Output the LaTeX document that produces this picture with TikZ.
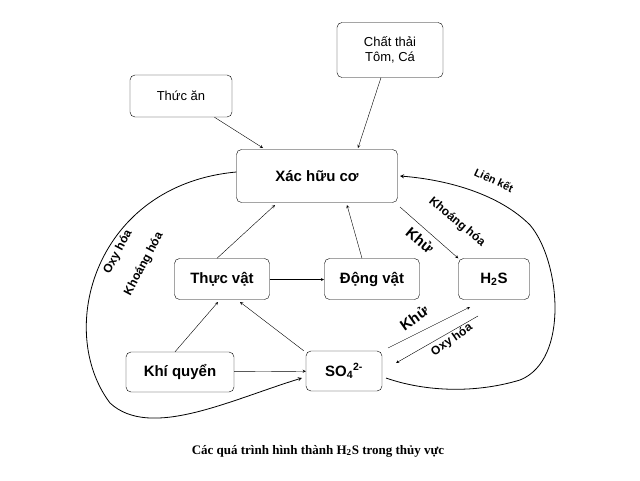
\documentclass[tikz,border=0pt]{standalone}
\usepackage{fontspec}
\setmainfont{Liberation Serif}
\setsansfont{Liberation Sans}
\begin{document}
\begin{tikzpicture}[x=1pt, y=-1pt, >=stealth, thin,
  box/.style={draw, rounded corners=5pt, font=\sffamily\fontsize{13}{15}\selectfont, inner sep=0pt},
  bbox/.style={box, font=\sffamily\bfseries\fontsize{15}{17}\selectfont},
  lbl/.style={font=\sffamily\bfseries\fontsize{12}{14}\selectfont}]
\useasboundingbox (0,0) rectangle (640,480);
\node[box, minimum width=102pt, minimum height=42pt] (TA) at (181,96) {Thức ăn};
\node[box, minimum width=106pt, minimum height=55pt, align=center] (CT) at (390,50) {Chất thải\\Tôm, Cá};
\node[bbox, minimum width=161pt, minimum height=53pt] (X) at (317,176) {Xác hữu cơ};
\node[bbox, minimum width=95pt, minimum height=41pt] (TV) at (222,279) {Thực vật};
\node[bbox, minimum width=95pt, minimum height=41pt] (DV) at (372,279) {Động vật};
\node[bbox, minimum width=71pt, minimum height=41pt] (H) at (494,279) {H\textsubscript{2}S};
\node[bbox, minimum width=108pt, minimum height=40pt] (KQ) at (180,372) {Khí quyển};
\node[bbox, minimum width=76pt, minimum height=40pt] (SO) at (344,371) {SO\textsubscript{4}\textsuperscript{2-}};
% arrows
\draw[->] (TA) -- (263,148);
\draw[->] (CT) -- (358,148);
\draw[->] (TV.north) ++(-5,0) -- (275,205);
\draw[->] (DV.north) ++(-10,0) -- (347,205);
\draw[->] (TV.east) ++(0,0.5) -- (324,279.5);
\draw[->] (KQ.north) ++(-5,0) -- (218,302);
\draw[->] (KQ) -- (SO);
\draw[->] (SO.north west) ++(-2,0) -- (240,302);
\draw[->] (400,207) -- (H.north west);
\draw[->] (388,348) -- (470,307);
\draw[->] (478,316) -- (396,363);
% curves
\draw[->, thick] (X.west) ++(0,-4) .. controls (95,185) and (55,330) .. (110,403)
  .. controls (150,440) and (230,400) .. (302,378);
\draw[->, thick] (386,378) .. controls (420,390) and (470,395) .. (520,380)
  .. controls (570,360) and (560,260) .. (530,225)
  .. controls (500,195) and (450,180) .. (400,176);
% labels
\node[lbl, rotate=62] (l1) at (118,252) {Oxy hóa};
\node[lbl, rotate=62] (l2) at (144,264) {Khoáng hóa};
\node[lbl, rotate=-25, font=\sffamily\bfseries\fontsize{11}{13}\selectfont] (l3) at (494,180) {Liên kết};
\node[lbl, rotate=-40] (l4) at (457,222) {Khoáng hóa};
\node[lbl, rotate=-40, font=\sffamily\bfseries\fontsize{15}{17}\selectfont] (l5) at (420,240) {Khử};
\node[lbl, rotate=35, font=\sffamily\bfseries\fontsize{15}{17}\selectfont] (l6) at (414,318) {Khử};
\node[lbl, rotate=35] (l7) at (452,340) {Oxy hóa};
\node[font=\bfseries\fontsize{13}{15}\selectfont] (cap) at (318,451) {Các quá trình hình thành H\textsubscript{2}S trong thủy vực};
\end{tikzpicture}
\end{document}
